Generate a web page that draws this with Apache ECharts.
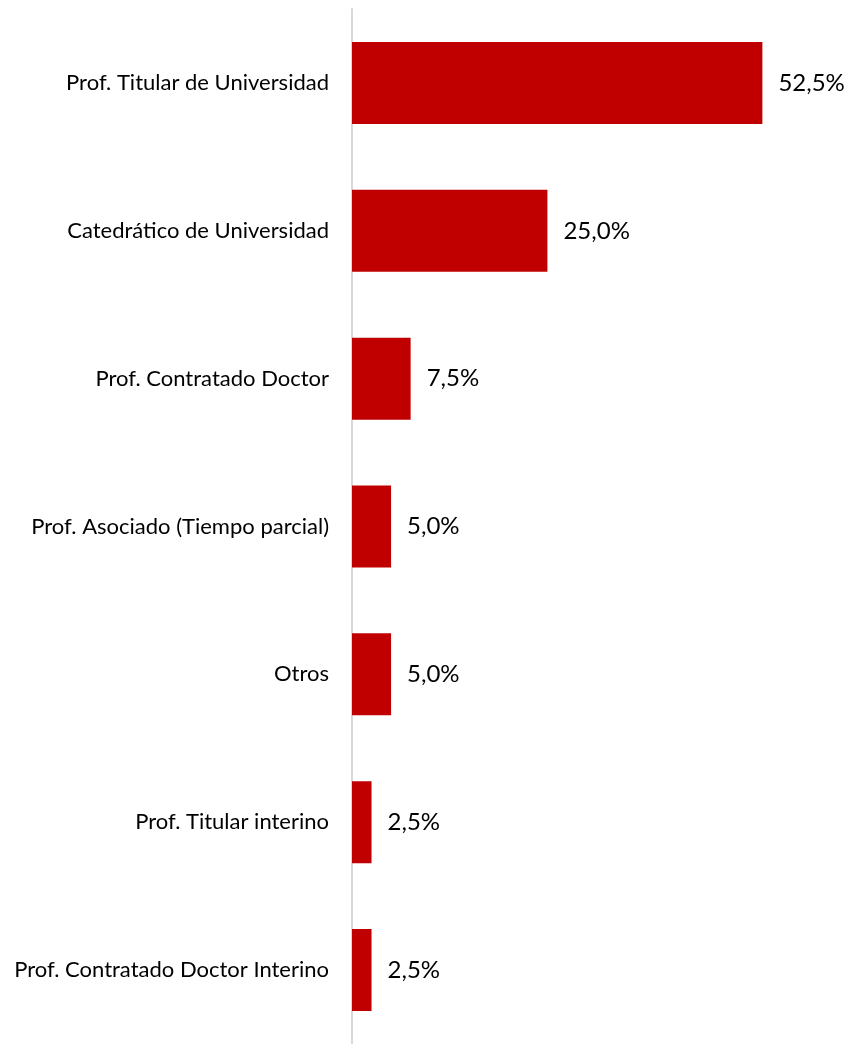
<!DOCTYPE html>
<html>
<head>
<meta charset="utf-8">
<script src="https://cdn.jsdelivr.net/npm/echarts@6/dist/echarts.min.js"></script>
<style>
html, body { margin: 0; padding: 0; background: #fff; }
#chart { width: 847px; height: 1044px; }
</style>
</head>
<body>
<div id="chart"></div>
<script>
var categories = ['Prof. Titular de Universidad', 'Catedrático de Universidad', 'Prof. Contratado Doctor',
    'Prof. Asociado (Tiempo parcial)', 'Otros', 'Prof. Titular interino', 'Prof. Contratado Doctor Interino'];
var values = [52.5, 25.0, 7.5, 5.0, 5.0, 2.5, 2.5];

var myChart = echarts.init(document.getElementById('chart'));

var option = {
    animation: false,
    grid: { left: 352, right: 26, top: 9, bottom: -3, containLabel: false },
    xAxis: {
        type: 'value',
        min: 0,
        max: 60,
        show: false
    },
    yAxis: {
        type: 'category',
        data: categories,
        inverse: true,
        axisLine: { show: true, lineStyle: { color: '#d9d9d9', width: 2 } },
        axisTick: { show: false },
        axisLabel: {
            margin: 23,
            color: '#000',
            fontFamily: 'Lato',
            fontSize: 22
        }
    },
    series: [{
        type: 'bar',
        data: values,
        barWidth: 82,
        itemStyle: { color: '#c00000' },
        label: {
            show: true,
            position: 'right',
            distance: 16,
            color: '#000',
            fontFamily: 'Lato',
            fontSize: 24,
            formatter: function (p) {
                return p.value.toFixed(1).replace('.', ',') + '%';
            }
        }
    }]
};

myChart.setOption(option);
</script>
</body>
</html>
